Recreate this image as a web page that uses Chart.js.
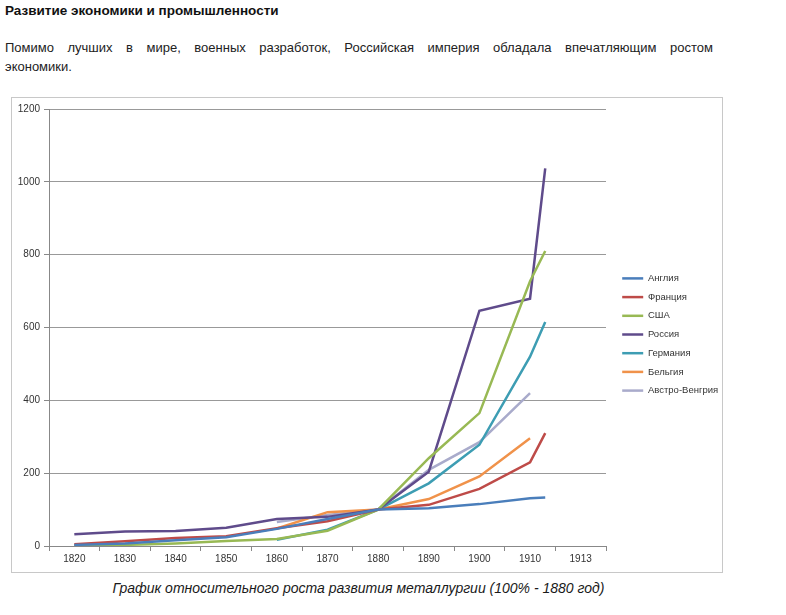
<!DOCTYPE html>
<html>
<head>
<meta charset="utf-8">
<script src="https://cdn.jsdelivr.net/npm/chart.js@4"></script>
<style>
  body { margin: 0; background: #fff; font-family: "Liberation Sans", Arial, sans-serif; color: #222; }
  #title { position: absolute; left: 5px; top: 3px; font-weight: bold; font-size: 13.5px; color: #111; }
  #para { position: absolute; left: 5px; top: 38px; width: 708px; font-size: 13px; line-height: 19px; color: #222; }
  #para .l1 { display: block; text-align: justify; text-align-last: justify; }
  #box { position: absolute; left: 11px; top: 97px; width: 712px; height: 476px; border: 1px solid #c8c8c8; box-sizing: border-box; }
  #caption { position: absolute; left: 0; top: 580px; width: 717px; text-align: center; font-style: italic; font-size: 14px; color: #1a1a1a; }
</style>
</head>
<body>
<div id="title">Развитие экономики и промышленности</div>
<div id="para"><span class="l1">Помимо лучших в мире, военных разработок, Российская империя обладала впечатляющим ростом</span>экономики.</div>
<div id="box"><canvas id="chart" width="710" height="474"></canvas></div>
<div id="caption">График относительного роста развития металлургии (100% - 1880 год)</div>
<script>
// годы и подписи оси
const years = [1820, 1830, 1840, 1850, 1860, 1870, 1880, 1890, 1900, 1910, 1913];
const tickLabels = ["1820", "1830", "1840", "1850", "1860", "1870", "1880", "1890", "1900", "1910", "1913"];

// значения (1880 = 100)
const england = [3, 7, 16, 24, 47, 74, 100, 104, 115, 131, 133];
const france = [5, 13, 22, 27, 49, 68, 100, 113, 157, 230, 310];
const usa = [1, 3, 7, 14, 19, 42, 100, 241, 365, 727, 810];
const russia = [32, 40, 41, 50, 74, 80, 100, 204, 646, 679, 1037];
const germany = [null, null, null, null, 17, 45, 100, 172, 278, 520, 615];
const belgium = [null, null, null, null, 48, 93, 100, 129, 191, 296, null];
const austria = [null, null, null, null, 66, 85, 100, 209, 285, 420, null];

const names = ["Англия", "Франция", "США", "Россия", "Германия", "Бельгия", "Австро-Венгрия"];
const colors = ["#4A7EBB", "#BE4B48", "#98B954", "#5F4B8B", "#3D9DB3", "#F0924A", "#A9ABCB"];
const series = [england, france, usa, russia, germany, belgium, austria];

const toPoints = vals => years.map((y, i) => ({ x: y, y: vals[i] })).filter(p => p.y !== null);

const datasets = series.map((vals, i) => ({
  label: names[i],
  data: toPoints(vals),
  borderColor: colors[i],
  backgroundColor: colors[i],
  borderWidth: 2.5,
  pointRadius: 0,
  tension: 0
}));

// legend: fixed width, nudged right and up like the original
const legendShift = {
  id: "legendShift",
  afterInit(chart) {
    const fit = chart.legend.fit;
    chart.legend.fit = function () { fit.call(this); this.width = 116; };
  },
  afterLayout(chart) {
    chart.legend.left += 7;
    chart.legend.top -= 6;
    chart.legend.bottom -= 6;
  }
};

const tickFont = { family: "Liberation Sans", size: 10 };

new Chart(document.getElementById("chart"), {
  type: "line",
  data: { datasets: datasets },
  plugins: [legendShift],
  options: {
    responsive: false,
    animation: false,
    layout: { padding: { top: 11, right: 0, bottom: 0, left: 0 } },
    plugins: {
      tooltip: { enabled: false },
      legend: {
        position: "right",
        labels: {
          usePointStyle: true,
          pointStyle: "line",
          pointStyleWidth: 21,
          boxHeight: 10,
          padding: 9.2,
          color: "#333",
          font: { family: "Liberation Sans", size: 9.5 }
        }
      }
    },
    scales: {
      x: {
        type: "linear",
        min: 1815,
        max: 1925,
        afterBuildTicks: s => {
          const t = [];
          for (let v = 1815; v <= 1925; v += 5) t.push({ value: v });
          s.ticks = t;
        },
        afterFit: s => { s.height = 26; },
        ticks: {
          autoSkip: false,
          maxRotation: 0,
          padding: 2,
          color: "#333",
          font: tickFont,
          callback: v => (v - 1820) % 10 === 0 ? tickLabels[(v - 1820) / 10] : ""
        },
        grid: {
          drawOnChartArea: false,
          tickLength: 5,
          tickColor: c => (c.tick && c.tick.value % 10 === 5) ? "#888" : "rgba(0,0,0,0)"
        },
        border: { display: true, color: "#888" }
      },
      y: {
        min: 0,
        max: 1200,
        afterFit: s => { s.width = 37; },
        ticks: { stepSize: 200, padding: 4, color: "#333", font: tickFont, callback: v => String(v) },
        grid: { color: "#999", tickLength: 5, tickColor: "#888" },
        border: { display: true, color: "#888" }
      }
    }
  }
});
</script>
</body>
</html>
